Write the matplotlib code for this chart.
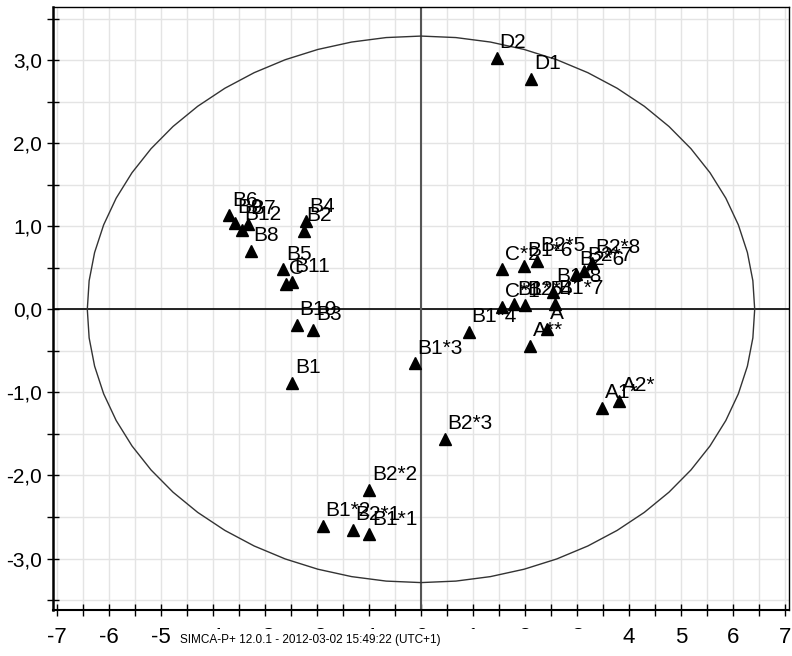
import numpy as np
import matplotlib.pyplot as plt
from matplotlib.ticker import MultipleLocator
from matplotlib.patches import Rectangle

# score values (t[1], t[2])
labels = ['D2', 'D1',
          'B6', 'B9', 'B12', 'B7', 'B8', 'B4', 'B2', 'B5', 'C', 'B11',
          'B10', 'B3', 'B1',
          'B2*2', 'B1*2', 'B2*1', 'B1*1', 'B1*3', 'B1*4', 'B2*3',
          'C*2', 'B1*6', 'B2*5', 'B2*6', 'B2*7', 'B2*8', 'B1*8',
          'C*1', 'B1*5', 'B2*4', 'B1*7', 'A', 'A**', 'A1*', 'A2*']
t1 = [1.46, 2.12,
      -3.69, -3.58, -3.45, -3.33, -3.28, -2.21, -2.26, -2.65, -2.60, -2.49,
      -2.39, -2.07, -2.48,
      -1.00, -1.89, -1.31, -1.00, -0.12, 0.92, 0.46,
      1.56, 1.99, 2.24, 2.99, 3.14, 3.29, 2.54,
      1.56, 1.79, 2.00, 2.58, 2.43, 2.10, 3.49, 3.81]
t2 = [3.03, 2.77,
      1.13, 1.04, 0.96, 1.03, 0.70, 1.06, 0.94, 0.48, 0.31, 0.33,
      -0.19, -0.25, -0.89,
      -2.17, -2.61, -2.66, -2.71, -0.65, -0.27, -1.56,
      0.48, 0.52, 0.58, 0.42, 0.46, 0.56, 0.21,
      0.03, 0.06, 0.05, 0.07, -0.24, -0.44, -1.19, -1.10]

# Hotelling T2 ellipse half axes
ell_a = 6.42
ell_b = 3.29

x_ticks = [-7, -6, -5, -4, -3, -2, -1, 0, 1, 2, 3, 4, 5, 6, 7]
x_tick_labels = ['-7', '-6', '-5', '-4', '-3', '-2', '-1', '0', '1', '2', '3', '4', '5', '6', '7']
y_ticks = [-3, -2, -1, 0, 1, 2, 3]
y_tick_labels = ['-3,0', '-2,0', '-1,0', '0,0', '1,0', '2,0', '3,0']

footer = 'SIMCA-P+ 12.0.1 - 2012-03-02 15:49:22 (UTC+1)'

plt.rcParams['font.family'] = ['Liberation Sans', 'DejaVu Sans']

fig = plt.figure(figsize=(7.92, 6.56), dpi=100)
ax = fig.add_axes([53 / 792, 1 - 610 / 656, 736 / 792, 603 / 656])

ax.set_xlim(-7.08, 7.08)
ax.set_ylim(-3.62, 3.64)

ax.xaxis.set_minor_locator(MultipleLocator(0.5))
ax.yaxis.set_minor_locator(MultipleLocator(0.5))
ax.grid(True, which='both', color='#e4e4e4', lw=1)
ax.set_axisbelow(True)

ax.axhline(0, color='black', lw=1.2, zorder=2)
ax.axvline(0, color='#555555', lw=1.5, zorder=2)

# ellipse drawn as a coarse polygon, like SIMCA does
th = np.linspace(0, 2 * np.pi, 61)
ax.plot(ell_a * np.cos(th), ell_b * np.sin(th), color='#333333', lw=1, zorder=3)

ax.plot(t1, t2, linestyle='none', marker='^', ms=8, color='black', zorder=4)
for lab, x, y in zip(labels, t1, t2):
    ax.annotate(lab, (x, y), xytext=(2, 11), textcoords='offset points',
                ha='left', va='center', fontsize=15, zorder=5)

ax.set_xticks(x_ticks)
ax.set_xticklabels(x_tick_labels, fontsize=16)
ax.set_yticks(y_ticks)
ax.set_yticklabels(y_tick_labels, fontsize=15)
ax.tick_params(which='both', direction='inout', length=9, width=1, color='black')
ax.tick_params(axis='x', pad=8)

for s in ['top', 'right']:
    ax.spines[s].set_linewidth(1)
ax.spines['left'].set_linewidth(1.8)
ax.spines['bottom'].set_linewidth(1.5)

# white strip of the footer hides most of the middle tick labels
fig.patches.append(Rectangle((184 / 792, 0), 420 / 792, 27 / 656, transform=fig.transFigure,
                             facecolor='white', edgecolor='none', zorder=5))
fig.text(310 / 792, 1 - 640 / 656, footer, ha='center', va='center', fontsize=8.5, zorder=6)

fig.savefig('out.png', dpi=100)
